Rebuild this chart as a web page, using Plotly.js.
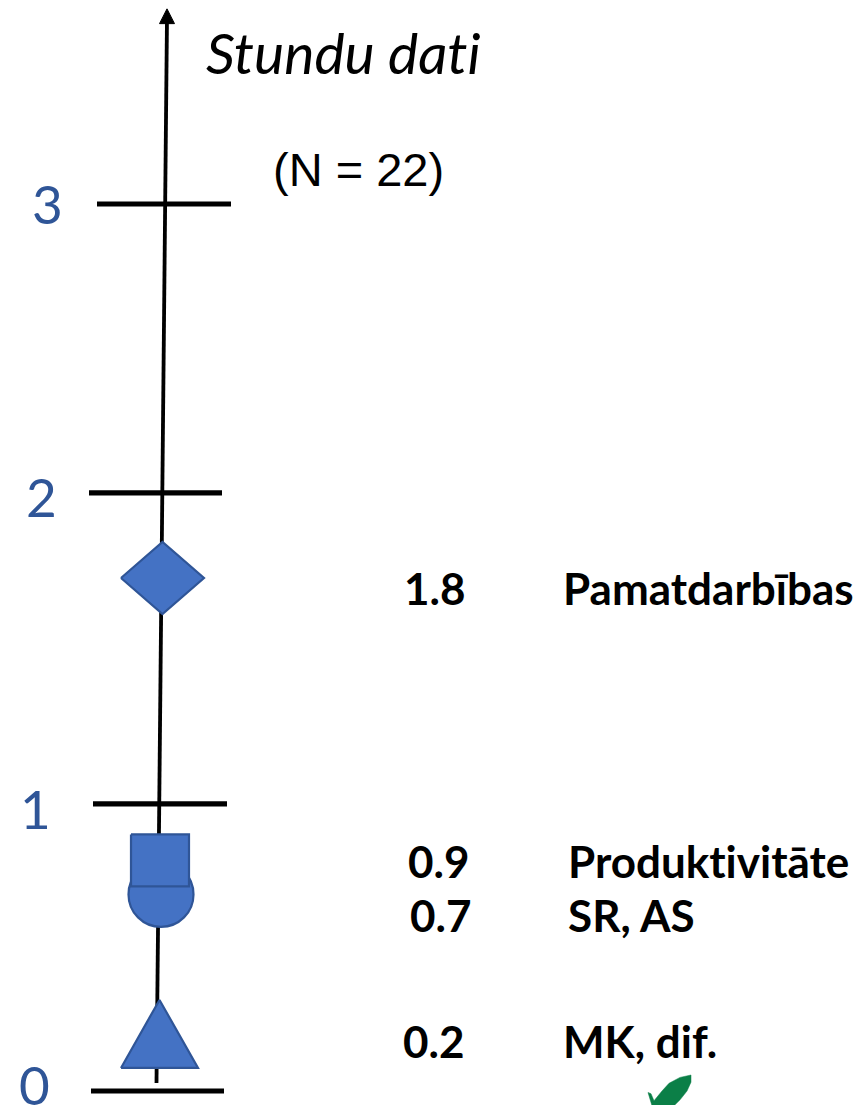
<!DOCTYPE html>
<html>
<head>
<meta charset="utf-8">
<script src="https://cdn.plot.ly/plotly-3.0.1.min.js"></script>
<style>html,body{margin:0;padding:0;background:#fff;overflow:hidden}#c{width:866px;height:1105px}
svg text{font-variant-ligatures:none;font-feature-settings:"liga" 0}</style>
</head>
<body>
<div id="c"></div>
<script>
// Axis labels and their positions along the hand-drawn scale
const tickLabels = ["0", "1", "2", "3"];
const tickPos = [0, 0.971, 2.023, 3];
const tickLeft = [91, 93, 89, 97];
const tickRight = [224, 227, 222, 231];
const tickLabelX = [18, 19, 25, 31];
const tickLabelY = [0.022, 0.954, 2.01, 3.003];

// Category rows
const values = ["1.8", "0.9", "0.7", "0.2"];
const categories = ["Pamatdarbības", "Produktivitāte", "SR, AS", "MK, dif."];
const valueX = [403, 407, 409, 402];
const categoryX = [562, 567, 567, 562];
const textY = [1.702, 0.778, 0.595, 0.169];

// Marker positions
const diamondCentre = [162.5, 1.735];
const squareCentre = [160, 0.78];
const circleCentre = [161, 0.665];
const triangleBaseX = 159.5;
const triangleBaseY = 0.078;
const triangleTopY = 0.308;

// Axis line
const axisX = [156.5, 167];
const axisY = [0.027, 3.63];
const arrowX = [159.5, 167, 174.5, 159.5];
const arrowY = [3.61, 3.66, 3.61, 3.61];

// Green leaf fragment at the bottom edge
const leafX = [648, 651, 654, 657, 662, 669, 680, 691, 691, 687, 680, 674, 652, 648];
const leafY = [-0.005, -0.009, -0.033, -0.02, 0.0, 0.026, 0.046, 0.054, 0.03, 0.0, -0.03, -0.05, -0.05, -0.005];

const BLUE = "#4472C4", EDGE = "#2F5597";
const PXY = 295.67;   // pixels per axis unit

function poly(x, y) {
  return {x, y, mode: "lines", fill: "toself", fillcolor: BLUE,
          line: {color: EDGE, width: 2.2}, hoverinfo: "skip", showlegend: false};
}

const traces = [];
traces.push({x: axisX, y: axisY, mode: "lines", line: {color: "#000", width: 3.8}, hoverinfo: "skip", showlegend: false});
traces.push({x: arrowX, y: arrowY, mode: "lines", fill: "toself", fillcolor: "#000", line: {color: "#000", width: 1}, hoverinfo: "skip", showlegend: false});
tickPos.forEach((p, i) => traces.push({x: [tickLeft[i], tickRight[i]], y: [p, p], mode: "lines",
  line: {color: "#000", width: 5.2}, hoverinfo: "skip", showlegend: false}));

// circle sits under the square
traces.push({x: [circleCentre[0]], y: [circleCentre[1]], mode: "markers",
  marker: {symbol: "circle", size: 65, color: BLUE, line: {color: EDGE, width: 2.2}}, hoverinfo: "skip", showlegend: false});

const dw = 41.5, dh = 36 / PXY;
traces.push(poly(
  [diamondCentre[0] - dw, diamondCentre[0], diamondCentre[0] + dw, diamondCentre[0], diamondCentre[0] - dw],
  [diamondCentre[1], diamondCentre[1] + dh, diamondCentre[1], diamondCentre[1] - dh, diamondCentre[1]]));

const sw = 29, sh = 26 / PXY;
traces.push(poly(
  [squareCentre[0] - sw, squareCentre[0] + sw, squareCentre[0] + sw, squareCentre[0] - sw, squareCentre[0] - sw],
  [squareCentre[1] + sh, squareCentre[1] + sh, squareCentre[1] - sh, squareCentre[1] - sh, squareCentre[1] + sh]));

const tw = 38.5;
traces.push(poly(
  [triangleBaseX - tw, triangleBaseX, triangleBaseX + tw, triangleBaseX - tw],
  [triangleBaseY, triangleTopY, triangleBaseY, triangleBaseY]));

traces.push({x: leafX, y: leafY, mode: "lines", fill: "toself", fillcolor: "#0B7F47",
  line: {color: "#0B7F47", width: 0.5}, hoverinfo: "skip", showlegend: false});

const annotations = [];
function label(text, x, y, font) {
  annotations.push({text, x, y, xref: "x", yref: "y", xanchor: "left", yanchor: "middle",
    showarrow: false, borderpad: 0, font});
}
tickLabels.forEach((t, i) => label(t, tickLabelX[i], tickLabelY[i], {family: "Lato", size: 53, color: EDGE}));
values.forEach((t, i) => label("<b>" + t + "</b>", valueX[i], textY[i], {family: "Lato", size: 44, color: "#000"}));
categories.forEach((t, i) => label("<b>" + t + "</b>", categoryX[i], textY[i], {family: "Lato", size: 44, color: "#000"}));
label("<i>Stundu dati</i>", 205, 3.514, {family: "Lato", size: 57, color: "#000"});
label("(N = 22)", 271.5, 3.118, {family: "Liberation Sans", size: 47, color: "#000"});

Plotly.newPlot("c", traces, {
  width: 866, height: 1105,
  margin: {l: 0, r: 0, t: 0, b: 0},
  paper_bgcolor: "#fff", plot_bgcolor: "#fff",
  showlegend: false,
  xaxis: {range: [0, 866], visible: false, fixedrange: true},
  yaxis: {range: [-14 / PXY, 1091 / PXY], visible: false, fixedrange: true},
  annotations
}, {displayModeBar: false, staticPlot: true});
</script>
</body>
</html>
